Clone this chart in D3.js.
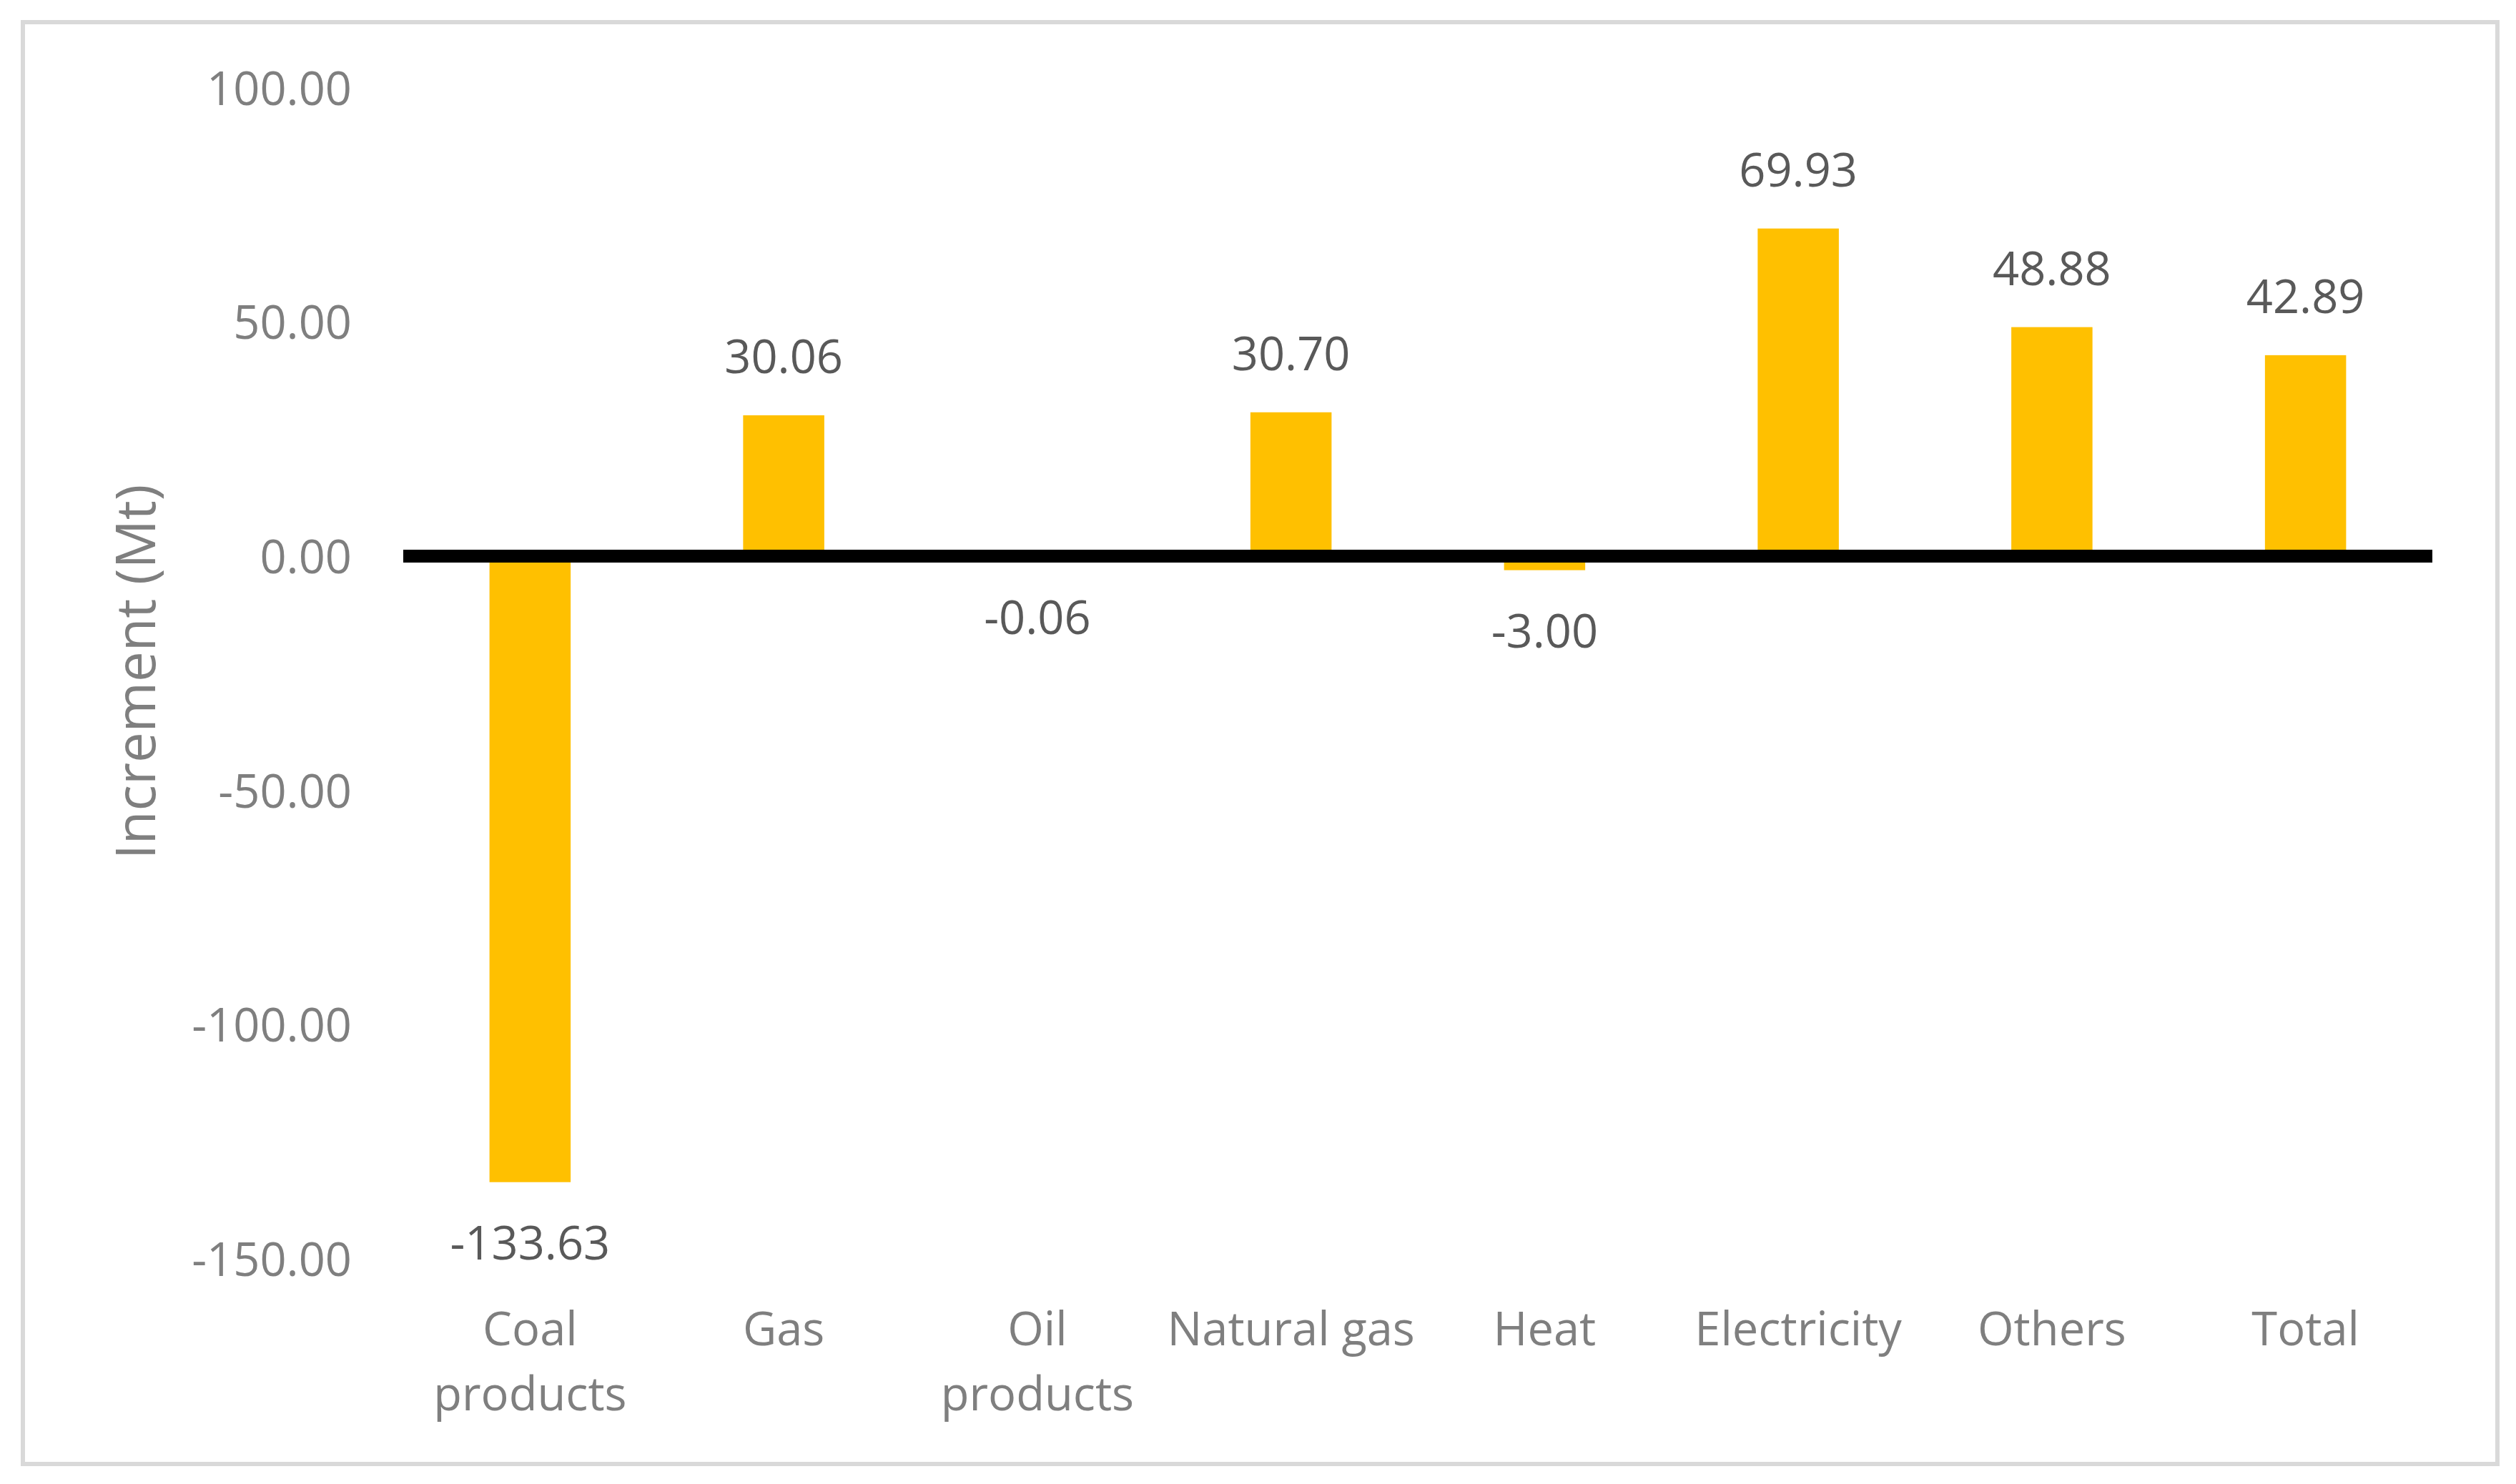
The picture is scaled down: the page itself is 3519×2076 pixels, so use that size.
<!DOCTYPE html>
<html>
<head>
<meta charset="utf-8">
<script src="https://cdn.jsdelivr.net/npm/d3@7"></script>
<style>
  html, body { margin: 0; padding: 0; background: #ffffff; }
  svg { display: block; }
  text { font-family: "Open Sans", "Noto Sans", sans-serif; }
</style>
</head>
<body>
<svg id="chart" width="3519" height="2076"></svg>
<script>
const categories = ["Coal products", "Gas", "Oil products", "Natural gas", "Heat", "Electricity", "Others", "Total"];
const values = [-133.63, 30.06, -0.06, 30.70, -3.00, 69.93, 48.88, 42.89];
const yTicks = [100, 50, 0, -50, -100, -150];
const yTitle = "Increment (Mt)";

const W = 3519, H = 2076;
const svg = d3.select("#chart");

// outer border
svg.append("rect")
  .attr("x", 32).attr("y", 31)
  .attr("width", 3461).attr("height", 2017)
  .attr("fill", "#ffffff")
  .attr("stroke", "#d9d9d9")
  .attr("stroke-width", 6);

const plotLeft = 564, plotRight = 3402;
const x = d3.scaleBand()
  .domain(categories)
  .range([plotLeft, plotRight])
  .paddingInner(0.68)
  .paddingOuter(0.34);

const y = d3.scaleLinear()
  .domain([-150, 100])
  .range([1761, 122.6]);

const fmt = v => v.toFixed(2);

// y axis
const yAxis = d3.axisLeft(y).tickValues(yTicks).tickSize(0).tickFormat(fmt);
const gy = svg.append("g").attr("transform", `translate(${plotLeft},0)`).call(yAxis);
gy.select(".domain").remove();
gy.selectAll("text")
  .attr("x", 492 - plotLeft)
  .attr("dy", "0.36em")
  .attr("fill", "#7f7f7f")
  .style("font-size", "65px")
  .style("font-family", "'Open Sans', sans-serif");

// bars
svg.append("g").selectAll("rect")
  .data(values)
  .join("rect")
  .attr("x", (d, i) => x(categories[i]))
  .attr("width", x.bandwidth())
  .attr("y", d => Math.min(y(d), y(0)))
  .attr("height", d => Math.abs(y(d) - y(0)))
  .attr("fill", "#FFC000");

// zero line
svg.append("line")
  .attr("x1", plotLeft).attr("x2", plotRight)
  .attr("y1", y(0)).attr("y2", y(0))
  .attr("stroke", "#000000")
  .attr("stroke-width", 18);

// data labels
svg.append("g").selectAll("text")
  .data(values)
  .join("text")
  .attr("x", (d, i) => x(categories[i]) + x.bandwidth() / 2)
  .attr("y", d => d >= 0 ? y(d) - 82 : y(d) + 85)
  .attr("dy", "0.36em")
  .attr("text-anchor", "middle")
  .attr("fill", "#595959")
  .style("font-size", "65px")
  .text(d => fmt(d));

// x axis (category labels)
const xAxis = d3.axisBottom(x).tickSize(0);
const gx = svg.append("g").attr("transform", "translate(0,1882)").call(xAxis);
gx.select(".domain").remove();
gx.selectAll("text")
  .attr("y", 0)
  .attr("dy", 0)
  .attr("fill", "#7f7f7f")
  .style("font-size", "65px")
  .style("font-family", "'Open Sans', sans-serif")
  .each(function(d) {
    const t = d3.select(this);
    const maxW = x.step();
    if (this.getComputedTextLength() > maxW) {
      const words = d.split(" ");
      t.text(null);
      words.forEach((w, k) => {
        t.append("tspan").attr("x", 0).attr("y", k * 91).text(w);
      });
    }
  });

// y title
svg.append("text")
  .attr("transform", `translate(217,940) rotate(-90)`)
  .attr("text-anchor", "middle")
  .attr("fill", "#7f7f7f")
  .style("font-size", "76px")
  .text(yTitle);
</script>
</body>
</html>
